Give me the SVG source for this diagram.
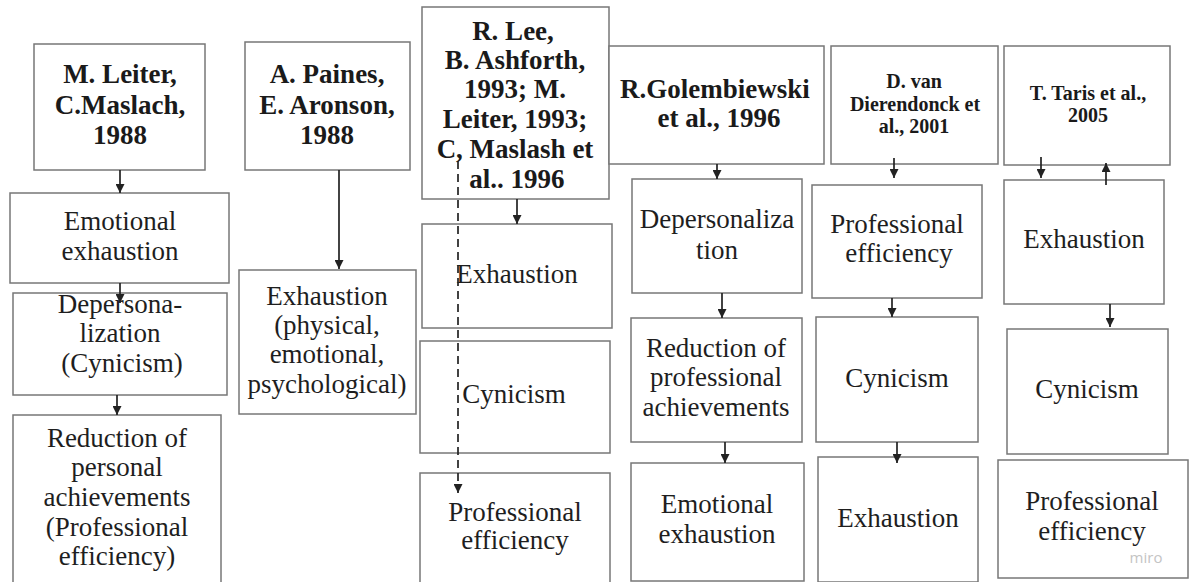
<svg xmlns="http://www.w3.org/2000/svg" width="1192" height="582" viewBox="0 0 1192 582">
<style>
.box{fill:#fff;stroke:#777;stroke-width:1.5}
.h{font-family:"Liberation Serif","Times New Roman",serif;font-weight:bold;font-size:27px;fill:#1a1a1a;text-anchor:middle}
.hs{font-family:"Liberation Serif","Times New Roman",serif;font-weight:bold;font-size:20px;fill:#1a1a1a;text-anchor:middle}
.t{font-family:"Liberation Serif","Times New Roman",serif;font-size:27px;fill:#1e1e1e;text-anchor:middle}
.c{stroke:#222;stroke-width:1.7;fill:none;marker-end:url(#ah)}
.d{stroke:#222;stroke-width:1.7;fill:none;stroke-dasharray:8 5;marker-end:url(#ah)}
.w{font-family:"Open Sans","DejaVu Sans",sans-serif;font-size:15px;fill:#c4c4c4;text-anchor:middle}
</style>
<defs>
<marker id="ah" viewBox="0 0 10 10" refX="10" refY="5" markerWidth="10" markerHeight="9" markerUnits="userSpaceOnUse" orient="auto"><path d="M0,0 L10,5 L0,10 z" fill="#222"/></marker>
</defs>
<rect width="1192" height="582" fill="#fff"/>

<g id="n-leiter"><rect class="box" x="34" y="44" width="171" height="126"/>
<text class="h" x="120" y="83">M. Leiter,</text><text class="h" x="120" y="114">C.Maslach,</text><text class="h" x="120" y="144">1988</text></g>
<g id="n-leiter-1"><rect class="box" x="10" y="193" width="219" height="90"/>
<text class="t" x="120" y="230">Emotional</text><text class="t" x="120" y="260">exhaustion</text></g>
<g id="n-leiter-2"><rect class="box" x="13" y="293" width="214" height="102"/>
<text class="t" x="120" y="313">Depersona-</text><text class="t" x="120" y="342">lization</text><text class="t" x="122" y="372">(Cynicism)</text></g>
<g id="n-leiter-3"><rect class="box" x="13" y="415" width="208" height="190"/>
<text class="t" x="117" y="447">Reduction of</text><text class="t" x="117" y="476">personal</text><text class="t" x="117" y="506">achievements</text><text class="t" x="117" y="536">(Professional</text><text class="t" x="117" y="565">efficiency)</text></g>

<g id="n-paines"><rect class="box" x="245" y="42" width="165" height="128"/>
<text class="h" x="327" y="83">A. Paines,</text><text class="h" x="327" y="114">E. Aronson,</text><text class="h" x="327" y="144">1988</text></g>
<g id="n-paines-1"><rect class="box" x="239" y="270" width="177" height="144"/>
<text class="t" x="327" y="305">Exhaustion</text><text class="t" x="327" y="334">(physical,</text><text class="t" x="327" y="363">emotional,</text><text class="t" x="327" y="393">psychological)</text></g>

<g id="n-lee"><rect class="box" x="422" y="7" width="187" height="192"/>
<text class="h" x="513" y="40">R. Lee,</text><text class="h" x="515" y="69">B. Ashforth,</text><text class="h" x="515" y="98">1993; M.</text><text class="h" x="515" y="128">Leiter, 1993;</text><text class="h" x="515" y="158">C, Maslash et</text><text class="h" x="517" y="188">al.. 1996</text></g>
<g id="n-lee-1"><rect class="box" x="422" y="224" width="190" height="104"/>
<text class="t" x="517" y="283">Exhaustion</text></g>
<g id="n-lee-2"><rect class="box" x="420" y="341" width="190" height="112"/>
<text class="t" x="514" y="403">Cynicism</text></g>
<g id="n-lee-3"><rect class="box" x="420" y="473" width="190" height="130"/>
<text class="t" x="515" y="521">Professional</text><text class="t" x="515" y="549">efficiency</text></g>

<g id="n-golem"><rect class="box" x="609" y="46" width="215" height="118"/>
<text class="h" x="715" y="98">R.Golembiewski</text><text class="h" x="719" y="127">et al., 1996</text></g>
<g id="n-golem-1"><rect class="box" x="632" y="179" width="170" height="114"/>
<text class="t" x="717" y="228">Depersonaliza</text><text class="t" x="717" y="259">tion</text></g>
<g id="n-golem-2"><rect class="box" x="631" y="318" width="171" height="124"/>
<text class="t" x="716" y="357">Reduction of</text><text class="t" x="716" y="386">professional</text><text class="t" x="716" y="416">achievements</text></g>
<g id="n-golem-3"><rect class="box" x="631" y="463" width="173" height="118"/>
<text class="t" x="717" y="513">Emotional</text><text class="t" x="717" y="543">exhaustion</text></g>

<g id="n-dieren"><rect class="box" x="831" y="46" width="167" height="118"/>
<text class="hs" x="914" y="88">D. van</text><text class="hs" x="915" y="111">Dierendonck et</text><text class="hs" x="914" y="133">al., 2001</text></g>
<g id="n-dieren-1"><rect class="box" x="812" y="185" width="170" height="113"/>
<text class="t" x="897" y="233">Professional</text><text class="t" x="899" y="262">efficiency</text></g>
<g id="n-dieren-2"><rect class="box" x="816" y="317" width="162" height="125"/>
<text class="t" x="897" y="387">Cynicism</text></g>
<g id="n-dieren-3"><rect class="box" x="818" y="457" width="160" height="125"/>
<text class="t" x="898" y="527">Exhaustion</text></g>

<g id="n-taris"><rect class="box" x="1004" y="46" width="166" height="119"/>
<text class="hs" x="1088" y="100">T. Taris et al.,</text><text class="hs" x="1088" y="122">2005</text></g>
<g id="n-taris-1"><rect class="box" x="1004" y="180" width="160" height="124"/>
<text class="t" x="1084" y="248">Exhaustion</text></g>
<g id="n-taris-2"><rect class="box" x="1007" y="329" width="161" height="125"/>
<text class="t" x="1087" y="398">Cynicism</text></g>
<g id="n-taris-3"><rect class="box" x="998" y="460" width="190" height="118"/>
<text class="t" x="1092" y="510">Professional</text><text class="t" x="1092" y="540">efficiency</text>
<text class="w" x="1146" y="563">miro</text></g>

<g id="connectors">
<line class="c" x1="120" y1="170" x2="120" y2="193"/>
<line class="c" x1="120" y1="283" x2="120" y2="303"/>
<line class="c" x1="117" y1="395" x2="117" y2="415"/>
<line class="c" x1="339" y1="170" x2="339" y2="269"/>
<line class="c" x1="517" y1="199" x2="517" y2="224"/>
<line class="d" x1="458" y1="161" x2="458" y2="493"/>
<line class="c" x1="717" y1="164" x2="717" y2="179"/>
<line class="c" x1="722" y1="293" x2="722" y2="318"/>
<line class="c" x1="725" y1="442" x2="725" y2="463"/>
<line class="c" x1="894" y1="158" x2="894" y2="178"/>
<line class="c" x1="892" y1="298" x2="892" y2="317"/>
<line class="c" x1="897" y1="442" x2="897" y2="463"/>
<line class="c" x1="1041" y1="157" x2="1041" y2="178"/>
<line class="c" x1="1106" y1="185" x2="1106" y2="163"/>
<line class="c" x1="1110" y1="304" x2="1110" y2="327"/>
</g>
</svg>
